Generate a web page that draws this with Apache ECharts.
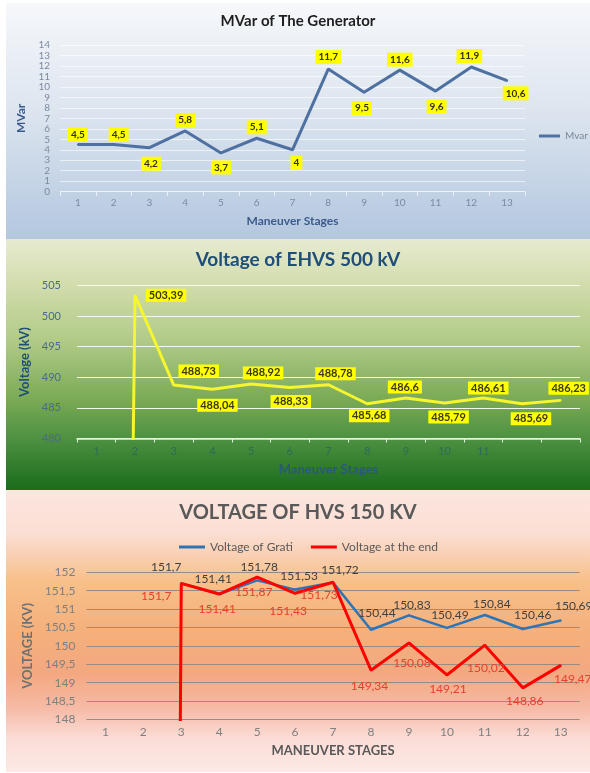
<!DOCTYPE html>
<html><head><meta charset="utf-8">
<script src="https://cdn.jsdelivr.net/npm/echarts@6/dist/echarts.min.js"></script>
<style>
html,body{margin:0;padding:0;background:#fff;width:590px;height:773px;overflow:hidden;}
.p{position:absolute;left:6px;width:584px;}
#c1{top:3px;height:236px;}
#c2{top:239px;height:251px;}
#c3{top:490px;height:282px;}
</style></head><body>
<div id="c1" class="p"></div><div id="c2" class="p"></div><div id="c3" class="p"></div>
<script>
// ---------- data ----------
const stages = ['1','2','3','4','5','6','7','8','9','10','11','12','13'];
const mvarValues = [4.5, 4.5, 4.2, 5.8, 3.7, 5.1, 4, 11.7, 9.5, 11.6, 9.6, 11.9, 10.6];
const ehvsValues = [0, 503.39, 488.73, 488.04, 488.92, 488.33, 488.78, 485.68, 486.6, 485.79, 486.61, 485.69, 486.23];
const ehvsTickLabels = ['1','2','3','4','5','6','7','8','9','10','11','',''];
const gratiValues = [null, null, 151.7, 151.41, 151.78, 151.53, 151.72, 150.44, 150.83, 150.49, 150.84, 150.46, 150.69];
const endValues = [null, 0, 151.7, 151.41, 151.87, 151.43, 151.73, 149.34, 150.08, 149.21, 150.02, 148.86, 149.47];

// ---------- label placement (layout only) ----------
const mvarLabelOffsets = [[0,-10],[5,-10],[1.5,16],[0,-11],[0,14.5],[0,-11],[4,13],[0,-12],[-2,16],[0,-10.5],[1,15.5],[-2,-11],[8.5,12.7]];
const ehvsLabelOffsets = [null,[31,0],[25,-14],[5,16],[12,-11],[1,14],[7,-11],[2,12],[-1,-11],[4,14],[5,-10],[9,15],[8,-12]];
const gratiLabelOffsets = [null,null,[-15,-16],[-6,-15],[2,-13],[4,-13],[7,-12],[6,-17],[3,-10],[3,-13],[7,-11],[10,-14],[13,-14]];
const endLabelOffsets = [null,null,[-25,13],[-2,15],[-3.5,15],[-7,18],[-14,13],[-1.5,16],[3,20],[1,14],[1,23],[2,13],[12,14]];

const FONT = 'Lato, "Open Sans", sans-serif';
const comma = v => String(v).replace('.', ',');
const grad = stops => new echarts.graphic.LinearGradient(0, 0, 0, 1, stops.map(s => ({offset: s[0], color: s[1]})));
function buildData(values, offsets) {
  return values.map((v, i) => {
    if (v === null) return null;
    const off = offsets[i];
    return off ? {value: v, label: {offset: off}} : {value: v, label: {show: false}};
  });
}

// ---------- chart 1 ----------
const c1 = echarts.init(document.getElementById('c1'));
c1.setOption({
  animation: false,
  backgroundColor: grad([[0,'#f6f8fb'],[0.45,'#dde5ef'],[1,'#b3c7df']]),
  textStyle: {fontFamily: FONT},
  title: {text: 'MVar of The Generator', left: 'center', top: 11, padding: 0,
    textStyle: {fontFamily: FONT, fontSize: 15, fontWeight: 'bold', color: '#1f1f1f'}},
  legend: {data: ['Mvar'], left: 533, top: 128, padding: 0, icon: 'rect', itemWidth: 21, itemHeight: 3,
    textStyle: {fontFamily: FONT, fontSize: 10, color: '#7a8799'}},
  grid: {left: 54, right: 65, top: 42, bottom: 47.3},
  xAxis: {type: 'category', data: stages, boundaryGap: true,
    axisLine: {lineStyle: {color: '#eef2f8', width: 1}},
    axisTick: {show: true, length: 4, lineStyle: {color: '#eef2f8'}},
    axisLabel: {color: '#7b8aa0', fontSize: 10, margin: 6, fontFamily: FONT},
    name: 'Maneuver Stages', nameLocation: 'middle', nameGap: 23,
    nameTextStyle: {fontFamily: FONT, fontSize: 12, fontWeight: 'bold', color: '#3b5b8c'}},
  yAxis: {type: 'value', min: 0, max: 14, interval: 1,
    axisLine: {show: false}, axisTick: {show: false},
    splitLine: {lineStyle: {color: 'rgba(255,255,255,0.6)', width: 1}},
    axisLabel: {color: '#7b8aa0', fontSize: 10, margin: 10, fontFamily: FONT},
    name: 'MVar', nameLocation: 'middle', nameGap: 22, nameRotate: 90,
    nameTextStyle: {fontFamily: FONT, fontSize: 12, fontWeight: 'bold', color: '#3b5b8c'}},
  series: [{type: 'line', name: 'Mvar', data: buildData(mvarValues, mvarLabelOffsets),
    symbol: 'circle', symbolSize: 2,
    lineStyle: {color: '#4e71a2', width: 3}, itemStyle: {color: '#4e71a2'},
    label: {show: true, position: 'inside', formatter: p => comma(p.value),
      backgroundColor: '#ffff00', color: '#33330f', fontSize: 10, fontWeight: 'bold', padding: [2, 3], fontFamily: FONT}}]
});

// ---------- chart 2 ----------
const c2 = echarts.init(document.getElementById('c2'));
c2.setOption({
  animation: false,
  backgroundColor: grad([[0,'#e6ebd0'],[0.16,'#d5deb0'],[0.4,'#b2cb88'],[0.64,'#7aaa55'],[0.8,'#4c9040'],[0.96,'#237323'],[1,'#1d6b1b']]),
  textStyle: {fontFamily: FONT},
  title: {text: 'Voltage of EHVS 500 kV', left: 'center', top: 11, padding: 0,
    textStyle: {fontFamily: FONT, fontSize: 19, fontWeight: 'bold', color: '#1f4e79'}},
  grid: {left: 71, right: 10, top: 46.5, bottom: 51.5},
  xAxis: {type: 'category', data: stages, boundaryGap: true,
    axisLine: {lineStyle: {color: '#e6efd8', width: 1.5}},
    axisTick: {show: true, length: 4, lineStyle: {color: '#e6efd8'}},
    axisLabel: {color: '#2f6b58', fontSize: 11, margin: 7, fontFamily: FONT, formatter: (v, i) => ehvsTickLabels[i]},
    name: 'Maneuver Stages', nameLocation: 'middle', nameGap: 25,
    nameTextStyle: {fontFamily: FONT, fontSize: 13, fontWeight: 'bold', color: '#2a5a72'}},
  yAxis: {type: 'value', min: 480, max: 505, interval: 5,
    axisLine: {show: false}, axisTick: {show: false},
    splitLine: {lineStyle: {color: '#f4f8ee', width: 1}},
    axisLabel: {color: '#4a6a8a', fontSize: 11, margin: 16, fontFamily: FONT},
    name: 'Voltage (kV)', nameLocation: 'middle', nameGap: 33, nameRotate: 90,
    nameTextStyle: {fontFamily: FONT, fontSize: 13, fontWeight: 'bold', color: '#1f4e79'}},
  series: [{type: 'line', name: 'Voltage', data: buildData(ehvsValues, ehvsLabelOffsets),
    symbol: 'circle', symbolSize: 2,
    lineStyle: {color: '#f5f530', width: 3}, itemStyle: {color: '#f5f530'},
    label: {show: true, position: 'inside', formatter: p => comma(p.value),
      backgroundColor: '#ffff00', color: '#3a3a10', fontSize: 11, fontWeight: 'bold', padding: [1, 3], fontFamily: FONT}}]
});

// ---------- chart 3 ----------
const c3 = echarts.init(document.getElementById('c3'));
c3.setOption({
  animation: false,
  backgroundColor: grad([[0,'#fce6e0'],[0.15,'#fbdfd4'],[0.22,'#f9d2b8'],[0.32,'#f7c08a'],[0.5,'#f5b07c'],[0.65,'#f3a880'],[0.78,'#f6bca8'],[0.88,'#fbdcd6'],[1,'#fde9e6']]),
  textStyle: {fontFamily: FONT},
  title: {text: 'VOLTAGE OF HVS 150 KV', left: 'center', top: 13, padding: 0,
    textStyle: {fontFamily: FONT, fontSize: 20, fontWeight: 'bold', color: '#595959'}},
  legend: {data: ['Voltage of Grati', 'Voltage at the end'], left: 173, top: 51, padding: 0, icon: 'rect',
    itemWidth: 26, itemHeight: 3, itemGap: 18,
    textStyle: {fontFamily: FONT, fontSize: 12, color: '#595959'}},
  grid: {left: 80.4, right: 10.3, top: 82.3, bottom: 52.5},
  xAxis: {type: 'category', data: stages, boundaryGap: true,
    axisLine: {show: false}, axisTick: {show: false},
    axisLabel: {color: '#808080', fontSize: 12, margin: 7, fontFamily: FONT},
    name: 'MANEUVER STAGES', nameLocation: 'middle', nameGap: 24.5,
    nameTextStyle: {fontFamily: FONT, fontSize: 13, fontWeight: 'bold', color: '#595959'}},
  yAxis: {type: 'value', min: 148, max: 152, interval: 0.5,
    axisLine: {show: false}, axisTick: {show: false},
    splitLine: {lineStyle: {color: '#9a8a80', width: 1}},
    axisLabel: {color: '#7f7f7f', fontSize: 12, margin: 11, fontFamily: FONT, formatter: v => comma(v)},
    name: 'VOLTAGE (KV)', nameLocation: 'middle', nameGap: 45, nameRotate: 90,
    nameTextStyle: {fontFamily: FONT, fontSize: 13, fontWeight: 'bold', color: '#707070'}},
  series: [
    {type: 'line', name: 'Voltage of Grati', data: buildData(gratiValues, gratiLabelOffsets),
      symbol: 'circle', symbolSize: 2,
      lineStyle: {color: '#2e75b6', width: 2.5}, itemStyle: {color: '#2e75b6'},
      label: {show: true, position: 'inside', formatter: p => comma(p.value),
        color: '#404040', fontSize: 12, fontFamily: FONT}},
    {type: 'line', name: 'Voltage at the end', data: buildData(endValues, endLabelOffsets),
      symbol: 'circle', symbolSize: 2,
      lineStyle: {color: '#ff0000', width: 3}, itemStyle: {color: '#ff0000'},
      label: {show: true, position: 'inside', formatter: p => comma(p.value),
        color: '#e5412e', fontSize: 12, fontFamily: FONT}}
  ]
});
</script>
</body></html>
